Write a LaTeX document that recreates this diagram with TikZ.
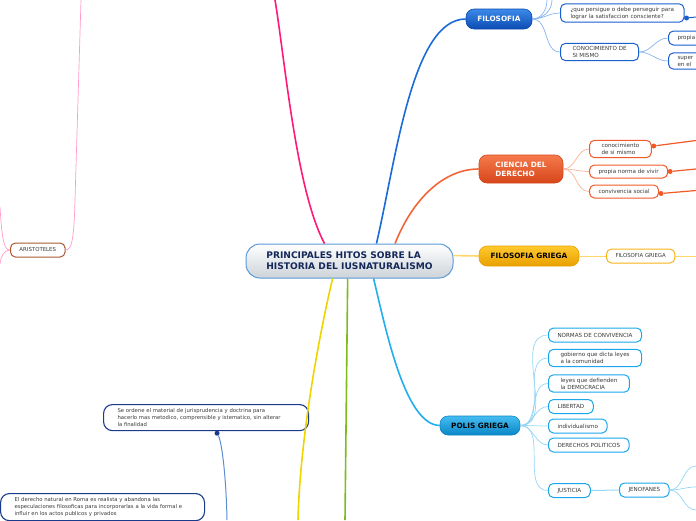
\documentclass[tikz,border=0pt]{standalone}
\usepackage{fontspec}
\setmainfont{DejaVu Sans}
\usetikzlibrary{calc,positioning}
\definecolor{ink}{HTML}{3A3A3A}
\definecolor{navy}{HTML}{14285A}
\definecolor{rootline}{HTML}{5A9AD6}
\definecolor{rootfill}{HTML}{CDD3D9}
\definecolor{filoA}{HTML}{3C8AEA}
\definecolor{filoB}{HTML}{0B4BB2}
\definecolor{filoC}{HTML}{1A6BD8}
\definecolor{filoedge}{HTML}{1A5FD0}
\definecolor{filotwig}{HTML}{86B4EE}
\definecolor{cienA}{HTML}{F57A4C}
\definecolor{cienB}{HTML}{D6461A}
\definecolor{cienC}{HTML}{F26538}
\definecolor{cienedge}{HTML}{F05A28}
\definecolor{cientwig}{HTML}{F8B394}
\definecolor{grieA}{HTML}{FFC92E}
\definecolor{grieB}{HTML}{E8A000}
\definecolor{grieC}{HTML}{FFD66A}
\definecolor{grieedge}{HTML}{F7B51A}
\definecolor{polisA}{HTML}{45BDF2}
\definecolor{polisB}{HTML}{0A86C6}
\definecolor{polisC}{HTML}{22AEEE}
\definecolor{polisedge}{HTML}{19A6EC}
\definecolor{polistwig}{HTML}{95D5F5}
\definecolor{lemon}{HTML}{F0D400}
\definecolor{leaf}{HTML}{7DBB1E}
\definecolor{rose}{HTML}{FF1A78}
\definecolor{roselt}{HTML}{FF9CC9}
\definecolor{bark}{HTML}{A85A30}
\definecolor{deep}{HTML}{1A3A8C}
\definecolor{deeptwig}{HTML}{5B8FD0}
\newcommand\leaffont{\fontsize{5.6}{7}\selectfont}
\newcommand\notefont{\fontsize{5.3}{7}\selectfont}
\newcommand\topicfont{\fontsize{7.3}{9}\selectfont\bfseries}
\tikzset{
  leafbox/.style={draw=#1,line width=1pt,rounded corners=5pt,fill=white,inner xsep=9pt,inner ysep=3pt,minimum height=14pt,align=left,font=\leaffont,text=ink,anchor=west},
  topic/.style={rounded corners=8pt,draw=#1,line width=0.6pt,minimum height=20pt,align=left,font=\topicfont},
  note/.style={draw=deep,line width=1.1pt,rounded corners=9pt,fill=white,inner xsep=14pt,inner ysep=4pt,align=left,font=\notefont,text=ink,anchor=north west},
  twig/.style={draw=#1,line width=0.7pt},
  limb/.style={draw=#1,line width=1.6pt},
  knob/.style={circle,fill=#1,inner sep=0pt,minimum size=5pt},
}
\begin{document}
\begin{tikzpicture}[x=1pt,y=1pt]
\useasboundingbox (0,0) rectangle (696,-520);
\clip (0,0) rectangle (696,-520);
\node[draw=rootline,line width=1pt,rounded corners=14pt,top color=white,bottom color=rootfill,minimum width=207pt,minimum height=34pt,align=left,font=\fontsize{9.1}{11}\selectfont\bfseries,text=navy] (root) at (349.5,-261) {PRINCIPALES HITOS SOBRE LA\\HISTORIA DEL IUSNATURALISMO};
\node[topic=filoB,top color=filoA,bottom color=filoB,minimum width=66pt,text=white] (filo) at (499,-19) {FILOSOFIA};
\node[topic=cienB,top color=cienA,bottom color=cienB,minimum width=84pt,minimum height=28pt,text=white] (cien) at (521,-169) {CIENCIA DEL\\DERECHO};
\node[topic=grieB,top color=grieA,bottom color=grieB,minimum width=100pt,text=black] (grie) at (529,-256) {FILOSOFIA GRIEGA};
\node[topic=polisB,top color=polisA,bottom color=polisB,minimum width=80pt,minimum height=19pt,text=black] (polis) at (480,-425.5) {POLIS GRIEGA};
\node[leafbox=filoedge,inner xsep=10pt] (goal) at (560,-13) {¿que persigue o debe perseguir para\\lograr la satisfaccion consciente?};
\node[leafbox=filoedge,inner xsep=12pt] (self) at (560,-52) {CONOCIMIENTO DE\\SI MISMO};
\node[leafbox=filoedge,text width=40pt] (own) at (668,-38) {propia};
\node[leafbox=filoedge,text width=40pt] (supr) at (668,-61) {super\\en el};
\node[knob=filoedge] (goalk) at ($(goal.east)+(2,-5)$) {};
\node[leafbox=cienedge,inner xsep=12pt] (know) at (589,-149) {conocimiento\\de si mismo};
\node[leafbox=cienedge,minimum height=13pt] (norm) at (589,-171.5) {propia norma de vivir};
\node[leafbox=cienedge,minimum height=13pt] (conv) at (589,-191.5) {convivencia social};
\node[knob=cienedge] (knowk) at ($(know.east)+(2,3)$) {};
\node[knob=cienedge] (normk) at ($(norm.east)+(2,0)$) {};
\node[knob=cienedge] (convk) at ($(conv.east)+(2,-2)$) {};
\node[leafbox=grieedge,font=\fontsize{5.4}{6.5}\selectfont] (griek) at (606,-256) {FILOSOFIA GRIEGA};
\node[leafbox=polisedge] (norms) at (548,-335) {NORMAS DE CONVIVENCIA};
\node[leafbox=polisedge,inner xsep=12pt] (govt) at (548,-358) {gobierno que dicta leyes\\a la comunidad};
\node[leafbox=polisedge,inner xsep=12pt] (demo) at (548,-383.5) {leyes que defienden\\la DEMOCRACIA};
\node[leafbox=polisedge] (free) at (548,-406.5) {LIBERTAD};
\node[leafbox=polisedge] (indiv) at (548,-426) {individualismo};
\node[leafbox=polisedge] (rights) at (548,-445) {DERECHOS POLITICOS};
\node[leafbox=polisedge] (just) at (548,-490.5) {JUSTICIA};
\node[leafbox=polisedge] (jeno) at (619,-490) {JENOFANES};
\node[leafbox=bark,font=\fontsize{5.4}{6.5}\selectfont] (aris) at (10,-250) {ARISTOTELES};
\node[note,text width=177pt] (order) at (103,-404) {Se ordene el material de jurisprudencia y doctrina para\\hacerlo mas metodico, comprensible y istematico, sin alterar\\la finalidad};
\node[note,text width=176pt] (roma) at (0,-493) {El derecho natural en Roma es realista y abandona las\\especulaciones filosoficas para incorporarlas a la vida formal e\\influir en los actos publicos y privados};
\node[knob=deep] (orderk) at ($(order.south)+(11,-2)$) {};
\coordinate (filoup1) at (547,0);
\coordinate (filoup2) at (552,0);
\coordinate (goalend) at (696,-17);
\coordinate (knowend) at (696,-140.5);
\coordinate (normend) at (696,-169);
\coordinate (convend) at (696,-190.5);
\coordinate (griend) at (696,-256);
\coordinate (jeno1) at (696,-466);
\coordinate (jeno2) at (696,-487);
\coordinate (jeno3) at (696,-510);
\coordinate (lemonend) at (298,-520);
\coordinate (leafend) at (345,-520);
\coordinate (roseend) at (275,0);
\coordinate (rosetop) at (81,0);
\coordinate (roseup) at (0,-207);
\coordinate (rosedown) at (0,-264);
\coordinate (deepend) at (227,-520);
\draw[limb=filoC] (root.33) .. controls (396,-160) and (412,-19) .. (filo.west);
\draw[limb=cienC] (root.21) .. controls (410,-205) and (440,-169) .. (cien.west);
\draw[limb=grieC] (root.3) -- (grie.west);
\draw[limb=polisC] (root.-36) .. controls (386,-330) and (405,-425) .. (polis.west);
\draw[limb=lemon] (root.-134.7) .. controls (318,-340) and (300,-440) .. (lemonend);
\draw[limb=leaf] (root.-96) -- (leafend);
\draw[limb=rose] (root.145) .. controls (296,-190) and (285,-60) .. (roseend);
\foreach \n in {filoup1,filoup2} \draw[twig=filotwig] (filo.east) to[out=0,in=-90] (\n);
\foreach \n in {goal,self} \draw[twig=filotwig] (filo.east) to[out=0,in=180] (\n.west);
\foreach \n in {own,supr} \draw[twig=filotwig] (self.east) to[out=0,in=180] (\n.west);
\draw[line width=1pt,filoedge] (goalk) -- (goalend);
\foreach \n in {know,norm,conv} {
  \draw[twig=cientwig] (cien.east) to[out=0,in=180] (\n.west);
  \draw[line width=1.2pt,cienedge] (\n k) -- (\n end);
}
\draw[twig=grieC,line width=1pt] (grie.east) -- (griek.west);
\draw[twig=grieC,line width=1pt] (griek.east) -- (griend);
\foreach \n in {norms,govt,demo,free,indiv,rights,just}
  \draw[twig=polistwig] (polis.east) to[out=0,in=180] (\n.west);
\draw[twig=polistwig,line width=1pt] (just.east) -- (jeno.west);
\foreach \n in {jeno1,jeno2,jeno3}
  \draw[twig=polistwig] (jeno.east) to[out=0,in=180] (\n);
\draw[twig=roselt] (aris.east) .. controls (72,-250) and (74,-238) .. (75,-200) -- (rosetop);
\draw[twig=roselt] (aris.west) .. controls (4,-250) and (2,-240) .. (roseup);
\draw[twig=roselt] (aris.west) .. controls (4,-250) and (1,-256) .. (rosedown);
\draw[line width=1pt,deeptwig] (orderk) .. controls (221,-440) and (226,-470) .. (deepend);
\end{tikzpicture}
\end{document}
